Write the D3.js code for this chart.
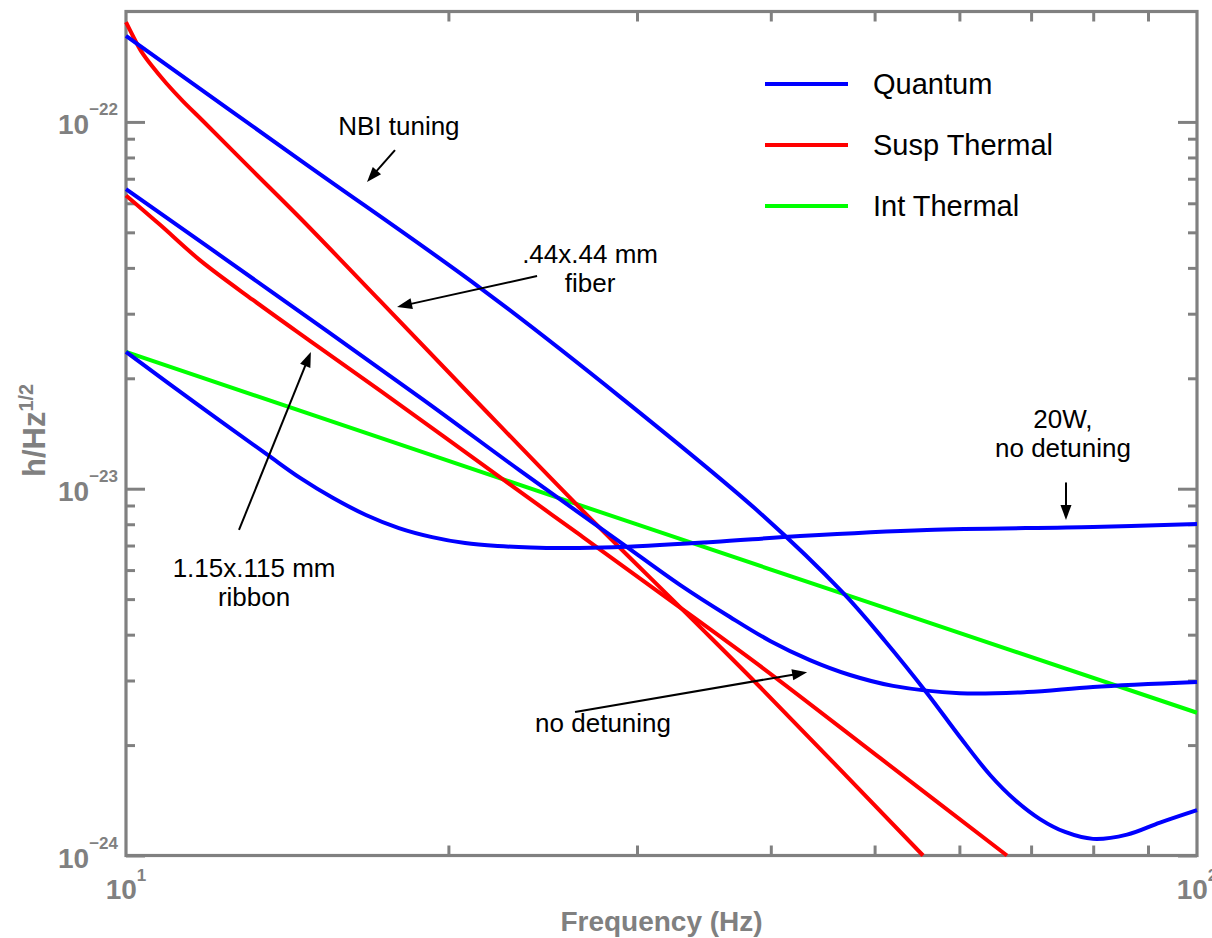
<!DOCTYPE html>
<html>
<head>
<meta charset="utf-8">
<script src="https://cdn.jsdelivr.net/npm/d3@7"></script>
<style>
  html, body { margin: 0; padding: 0; background: #ffffff; }
  svg { display: block; }
  text { font-family: "Liberation Sans", Helvetica, Arial, sans-serif; }
</style>
</head>
<body>
<svg id="chart" width="1212" height="938"></svg>
<script>
// Strain noise budget: frequency (Hz) vs amplitude spectral density (1/sqrt(Hz))

// Quantum noise, NBI tuning
const quantumNbiTuning = [
  [10, 1.715e-22], [14.54, 7.87e-23], [21.41, 3.53e-23], [28.93, 1.78e-23],
  [39.08, 8.59e-24], [46.73, 5.20e-24], [51.13, 3.845e-24], [55.97, 2.77e-24],
  [60.07, 2.104e-24], [64.09, 1.658e-24], [67.62, 1.417e-24], [71.35, 1.257e-24],
  [75.30, 1.159e-24], [79.96, 1.11e-24], [86.03, 1.14e-24], [92.35, 1.23e-24],
  [100, 1.33e-24]
];
// Quantum noise, no detuning
const quantumNoDetuning = [
  [10, 6.56e-23], [13.72, 3.42e-23], [18.94, 1.75e-23], [23.33, 1.12e-23],
  [28.93, 7.155e-24], [32.90, 5.47e-24], [36.64, 4.47e-24], [39.94, 3.845e-24],
  [43.51, 3.41e-24], [47.43, 3.105e-24], [52.02, 2.90e-24], [60.07, 2.77e-24],
  [69.38, 2.79e-24], [79.96, 2.88e-24], [100, 2.97e-24]
];
// Quantum noise, 20 W, no detuning
const quantum20W = [
  [10, 2.36e-23], [11.65, 1.70e-23], [13.54, 1.24e-23], [14.54, 1.07e-23],
  [15.61, 9.43e-24], [16.75, 8.48e-24], [17.98, 7.81e-24], [19.31, 7.38e-24],
  [20.73, 7.11e-24], [22.25, 6.98e-24], [23.88, 6.915e-24], [25.42, 6.89e-24],
  [28.49, 6.92e-24], [35.32, 7.16e-24], [42.60, 7.43e-24], [55.97, 7.72e-24],
  [79.96, 7.86e-24], [100, 8.01e-24]
];
// Suspension thermal noise, .44x.44 mm fiber
const suspFiber = [
  [10, 1.87e-22], [10.15, 1.715e-22], [10.33, 1.56e-22], [10.575, 1.42e-22],
  [10.90, 1.277e-22], [11.30, 1.14e-22], [11.80, 1.006e-22], [13.05, 7.49e-23],
  [14.54, 5.47e-23], [17.27, 3.25e-23], [21.09, 1.77e-23], [26.54, 8.86e-24],
  [33.83, 4.39e-24], [39.08, 2.88e-24], [55.49, 1.0e-24]
];
// Suspension thermal noise, 1.15x.115 mm ribbon
const suspRibbon = [
  [10, 6.3e-23], [10.76, 5.24e-23], [11.72, 4.20e-23], [13.14, 3.27e-23],
  [14.85, 2.53e-23], [17.27, 1.85e-23], [22.49, 1.06e-23], [26.54, 7.48e-24],
  [31.72, 5.13e-24], [39.08, 3.287e-24], [50.58, 1.845e-24], [66.46, 1.0e-24]
];
// Internal thermal noise
const intThermal = [[10, 2.36e-23], [30, 7.99e-24], [100, 2.45e-24]];

const legendLabels = ["Quantum", "Susp Thermal", "Int Thermal"];
const yDecades = [1e-24, 1e-23, 1e-22];
const yExponents = ["\u221224", "\u221223", "\u221222"];
const xDecades = [10, 100];
const xExponents = ["1", "2"];

// Annotations: text anchored in data space, arrows from tail to head
const annotations = [
  { lines: ["NBI tuning"], at: [17.98, 9.21e-23], from: [17.83, 8.38e-23], to: [16.79, 6.86e-23] },
  { lines: [".44x.44 mm", "fiber"], at: [27.12, 4.12e-23], from: [24.20, 3.80e-23], to: [17.91, 3.13e-23] },
  { lines: ["1.15x.115 mm", "ribbon"], at: [13.17, 5.74e-24], from: [12.75, 7.72e-24], to: [14.88, 2.36e-23] },
  { lines: ["no detuning"], at: [27.89, 2.17e-24], from: [26.26, 2.46e-24], to: [43.25, 3.16e-24] },
  { lines: ["20W,", "no detuning"], at: [74.96, 1.46e-23], from: [75.45, 1.04e-23], to: [75.45, 8.22e-24] }
];

const BLUE = "#0000ff", RED = "#ff0000", GREEN = "#00ff00", GREY = "#808080";

const svg = d3.select("#chart");
const plotLeft = 126, plotRight = 1197, plotTop = 11.5, plotBottom = 855.5;

const x = d3.scaleLog().domain([10, 100]).range([plotLeft, plotRight]);
const y = d3.scaleLog().domain([1e-24, 2e-22]).range([plotBottom, plotTop]);

svg.append("rect").attr("width", 1212).attr("height", 938).attr("fill", "#fff");

// Minor tick values
const xMinor = d3.range(2, 10).map(k => k * 10);
const yMinor = [];
yDecades.forEach(d => { for (let k = 2; k <= 9; k++) { const v = k * d; if (v < 2e-22 * 0.999) yMinor.push(v); } });

const tickG = svg.append("g");
function ticks(axis, tx, ty) {
  const g = tickG.append("g").attr("transform", `translate(${tx},${ty})`).call(axis);
  g.select(".domain").remove();
  g.selectAll(".tick text").remove();
  g.selectAll(".tick line").attr("stroke", GREY).attr("stroke-width", 3);
}
ticks(d3.axisBottom(x).tickValues(xMinor).tickSize(-10), 0, plotBottom);
ticks(d3.axisTop(x).tickValues(xMinor).tickSize(-10), 0, plotTop);
ticks(d3.axisLeft(y).tickValues(yMinor).tickSize(-9), plotLeft, 0);
ticks(d3.axisRight(y).tickValues(yMinor).tickSize(-9), plotRight, 0);
ticks(d3.axisLeft(y).tickValues(yDecades).tickSize(-19), plotLeft, 0);
ticks(d3.axisRight(y).tickValues(yDecades).tickSize(-19), plotRight, 0);

// Frame
svg.append("rect")
  .attr("x", plotLeft).attr("y", plotTop)
  .attr("width", plotRight - plotLeft).attr("height", plotBottom - plotTop)
  .attr("fill", "none").attr("stroke", GREY).attr("stroke-width", 3.2);

// Curves
const line = d3.line().x(d => x(d[0])).y(d => y(d[1])).curve(d3.curveCatmullRom.alpha(0.5));
const series = [
  { data: intThermal, color: GREEN },
  { data: suspFiber, color: RED },
  { data: suspRibbon, color: RED },
  { data: quantumNbiTuning, color: BLUE },
  { data: quantumNoDetuning, color: BLUE },
  { data: quantum20W, color: BLUE }
];
svg.append("g").selectAll("path").data(series).join("path")
  .attr("d", s => line(s.data))
  .attr("fill", "none")
  .attr("stroke", s => s.color)
  .attr("stroke-width", 4)
  .attr("stroke-linejoin", "round");

// Tick labels
const yl = svg.append("g").attr("fill", GREY).attr("font-weight", "bold");
yDecades.forEach((d, i) => {
  const t = yl.append("text").attr("x", 118).attr("y", y(d) + 12).attr("text-anchor", "end");
  t.append("tspan").attr("font-size", 28).text("10");
  t.append("tspan").attr("font-size", 17).attr("dy", -19).text(yExponents[i]);
});
xDecades.forEach((d, i) => {
  const t = yl.append("text").attr("x", x(d)).attr("y", 899).attr("text-anchor", "middle");
  t.append("tspan").attr("font-size", 28).text("10");
  t.append("tspan").attr("font-size", 17).attr("dy", -18).text(xExponents[i]);
});

// Axis titles
yl.append("text").attr("x", (plotLeft + plotRight) / 2).attr("y", 931)
  .attr("text-anchor", "middle").attr("font-size", 28).text("Frequency (Hz)");
const yt = yl.append("text").attr("transform", "translate(45,477) rotate(-90)").attr("text-anchor", "start");
yt.append("tspan").attr("font-size", 31).text("h/Hz");
yt.append("tspan").attr("font-size", 20).attr("dy", -12).text("1/2");

// Legend
const legendColors = [BLUE, RED, GREEN];
const lg = svg.append("g");
legendLabels.forEach((name, i) => {
  const ly = 84 + i * 61;
  lg.append("line").attr("x1", 765).attr("x2", 848).attr("y1", ly).attr("y2", ly)
    .attr("stroke", legendColors[i]).attr("stroke-width", 4);
  lg.append("text").attr("x", 873).attr("y", ly + 10).attr("font-size", 29).attr("fill", "#000").text(name);
});

// Annotations
const ag = svg.append("g");
function arrow(g, x1, y1, x2, y2) {
  const ang = Math.atan2(y2 - y1, x2 - x1);
  const len = 15, half = 5.5;
  const bx = x2 - len * Math.cos(ang), by = y2 - len * Math.sin(ang);
  g.append("line").attr("x1", x1).attr("y1", y1).attr("x2", bx + 2 * Math.cos(ang)).attr("y2", by + 2 * Math.sin(ang))
    .attr("stroke", "#000").attr("stroke-width", 2);
  const px = -Math.sin(ang) * half, py = Math.cos(ang) * half;
  g.append("path")
    .attr("d", `M${x2},${y2}L${bx + px},${by + py}L${bx - px},${by - py}Z`)
    .attr("fill", "#000");
}
annotations.forEach(a => {
  const t = ag.append("text").attr("x", x(a.at[0])).attr("y", y(a.at[1]))
    .attr("text-anchor", "middle").attr("font-size", 26).attr("fill", "#000");
  a.lines.forEach((s, i) => {
    t.append("tspan").attr("x", x(a.at[0])).attr("dy", i === 0 ? 0 : 29).text(s);
  });
  arrow(ag, x(a.from[0]), y(a.from[1]), x(a.to[0]), y(a.to[1]));
});
</script>
</body>
</html>
